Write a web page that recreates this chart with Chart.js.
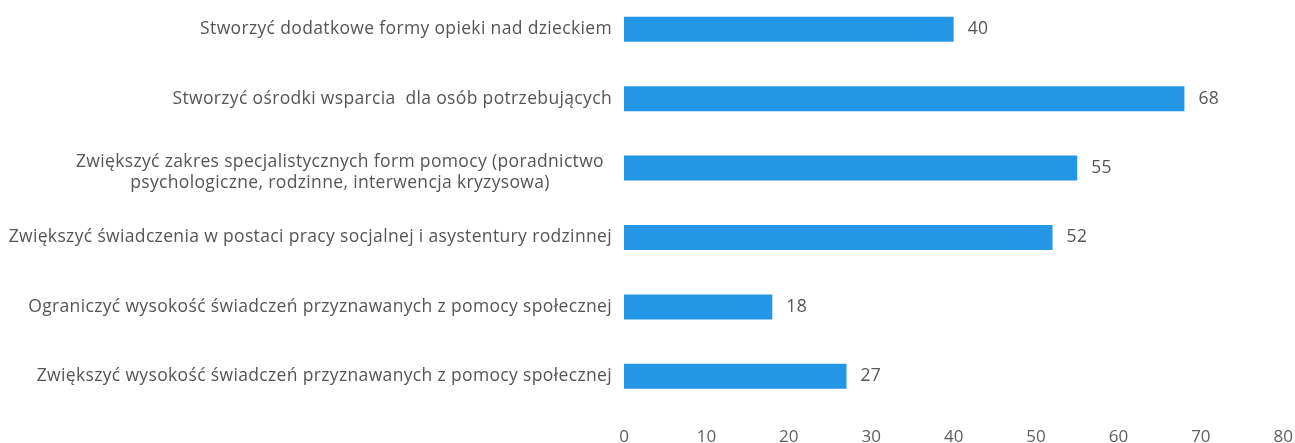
<!DOCTYPE html>
<html>
<head>
<meta charset="utf-8">
<script src="https://cdn.jsdelivr.net/npm/chart.js@4.4.0/dist/chart.umd.min.js"></script>
<style>
  html, body { margin: 0; padding: 0; background: #fff; overflow: hidden; }
  #wrap { position: relative; width: 1309px; height: 470px; margin-top: -9px; }
</style>
</head>
<body>
<div id="wrap"><canvas id="chart"></canvas></div>
<script>
// categories, top to bottom
var categories = [
  ['Stworzyć dodatkowe formy opieki nad dzieckiem'],
  ['Stworzyć ośrodki wsparcia  dla osób potrzebujących'],
  ['Zwiększyć zakres specjalistycznych form pomocy (poradnictwo', 'psychologiczne, rodzinne, interwencja kryzysowa)'],
  ['Zwiększyć świadczenia w postaci pracy socjalnej i asystentury rodzinnej'],
  ['Ograniczyć wysokość świadczeń przyznawanych z pomocy społecznej'],
  ['Zwiększyć wysokość świadczeń przyznawanych z pomocy społecznej']
];
var values = [40, 68, 55, 52, 18, 27];
var xTicks = [0, 10, 20, 30, 40, 50, 60, 70, 80];

var FONT = '"Open Sans", Lato, sans-serif';
var BLUE = '#2397e6';
var TEXT = '#555555';

// labels drawn by hand so the two-line one can be centred like the original
var labelPlugin = {
  id: 'labels',
  afterDraw: function(chart) {
    var ctx = chart.ctx;
    var y = chart.scales.y;
    var x = chart.scales.x;
    ctx.save();
    ctx.font = '17.5px ' + FONT;
    ctx.letterSpacing = '0.35px';
    ctx.fillStyle = TEXT;
    ctx.textBaseline = 'middle';
    categories.forEach(function(lines, i) {
      var cy = y.getPixelForTick(i);
      var right = x.left - 12;
      if (lines.length === 1) {
        ctx.textAlign = 'right';
        ctx.fillText(lines[0], right, cy);
      } else {
        var w = Math.max.apply(null, lines.map(function(l) { return ctx.measureText(l).width; }));
        var mid = right - 8 - w / 2;
        ctx.textAlign = 'center';
        var lh = 21;
        var top = cy + 4 - lh * (lines.length - 1) / 2;
        lines.forEach(function(l, k) { ctx.fillText(l, mid, top + k * lh); });
      }
    });
    // value labels at bar ends
    var meta = chart.getDatasetMeta(0);
    ctx.textAlign = 'left';
    meta.data.forEach(function(bar, i) {
      ctx.fillText(String(values[i]), bar.x + 14, bar.y);
    });
    ctx.restore();
  }
};

new Chart(document.getElementById('chart'), {
  type: 'bar',
  data: {
    labels: categories.map(function(c) { return c.join(' '); }),
    datasets: [{
      data: values,
      backgroundColor: BLUE,
      borderWidth: 0,
      categoryPercentage: 1,
      barPercentage: 0.36
    }]
  },
  options: {
    indexAxis: 'y',
    responsive: true,
    maintainAspectRatio: false,
    animation: false,
    layout: { padding: { left: 0, right: 8, top: 0, bottom: 0 } },
    plugins: { legend: { display: false }, tooltip: { enabled: false } },
    scales: {
      x: {
        min: 0, max: 80,
        afterBuildTicks: function(s) { s.ticks = xTicks.map(function(v) { return { value: v }; }); },
        grid: { display: false, drawTicks: false },
        border: { display: false },
        ticks: { color: '#5f5f5f', padding: 16, font: { family: FONT, size: 17 } },
        afterFit: function(s) { s.height = 50; }
      },
      y: {
        grid: { display: false, drawTicks: false },
        border: { display: false },
        ticks: { color: 'transparent', font: { size: 1 } },
        afterFit: function(s) { s.width = 624; }
      }
    }
  },
  plugins: [labelPlugin]
});
</script>
</body>
</html>
